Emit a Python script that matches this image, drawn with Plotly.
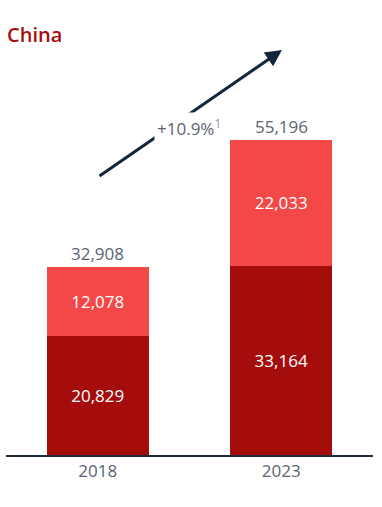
import plotly.graph_objects as go

years = ["2018", "2023"]
base_vals = [20829, 33164]
top_vals = [12078, 22033]
totals = [32908, 55196]
cagr_label = "+10.9%<sup><span style='color:#8a95a3'>1</span></sup>"

dark = "#A50D0D"
light = "#F44848"
grey = "#5b6470"

W, H = 382, 507
ml, mr, mt, mb = 6, 9, 20, 52
plot_h = H - mt - mb
px_per_unit = 188 / 32908
ymax = plot_h / px_per_unit

fig = go.Figure()
fig.add_bar(x=years, y=base_vals, marker_color=dark, marker_line_width=0,
            text=[f"{v:,}" for v in base_vals], textposition="inside",
            insidetextanchor="middle", textfont=dict(color="white", size=17),
            width=0.556)
fig.add_bar(x=years, y=top_vals, marker_color=light, marker_line_width=0,
            text=[f"{v:,}" for v in top_vals], textposition="inside",
            insidetextanchor="middle", textfont=dict(color="white", size=17),
            width=0.556)

for i, t in enumerate(totals):
    fig.add_annotation(x=i, y=t, xref="x", yref="y", text=f"{t:,}", showarrow=False,
                       yanchor="bottom", yshift=0, font=dict(size=17, color=grey))

# growth arrow
head_x, head_y = 282, 50
tail_x, tail_y = 98, 177
fig.add_annotation(xref="paper", yref="paper",
                   x=(head_x - ml) / (W - ml - mr), y=(H - mb - head_y) / plot_h,
                   ax=tail_x - head_x, ay=tail_y - head_y,
                   showarrow=True, arrowhead=2, arrowsize=1.1, arrowwidth=3,
                   arrowcolor="#13263b", text="")
fig.add_annotation(xref="paper", yref="paper",
                   x=(189 - ml) / (W - ml - mr), y=(H - mb - 112) / plot_h,
                   text=cagr_label, showarrow=False, bgcolor="white", borderpad=2,
                   font=dict(size=17, color=grey))

fig.update_layout(
    barmode="stack", width=W, height=H,
    margin=dict(l=ml, r=mr, t=mt, b=mb),
    plot_bgcolor="white", paper_bgcolor="white",
    showlegend=False,
    font=dict(family="Open Sans", color=grey),
    title=dict(text="China", x=7 / W, xanchor="left", y=1 - 35 / H, yanchor="middle",
               font=dict(size=20, color="#A50D0D", family="Open Sans", weight=600)),
    xaxis=dict(type="category", showline=True, linecolor="#1e2b38", linewidth=1.5, ticks="",
               tickfont=dict(size=17, color=grey), showgrid=False,
               range=[-0.5, 1.5]),
    yaxis=dict(visible=False, range=[0, ymax], showgrid=False),
)

fig.write_html("out.html")
